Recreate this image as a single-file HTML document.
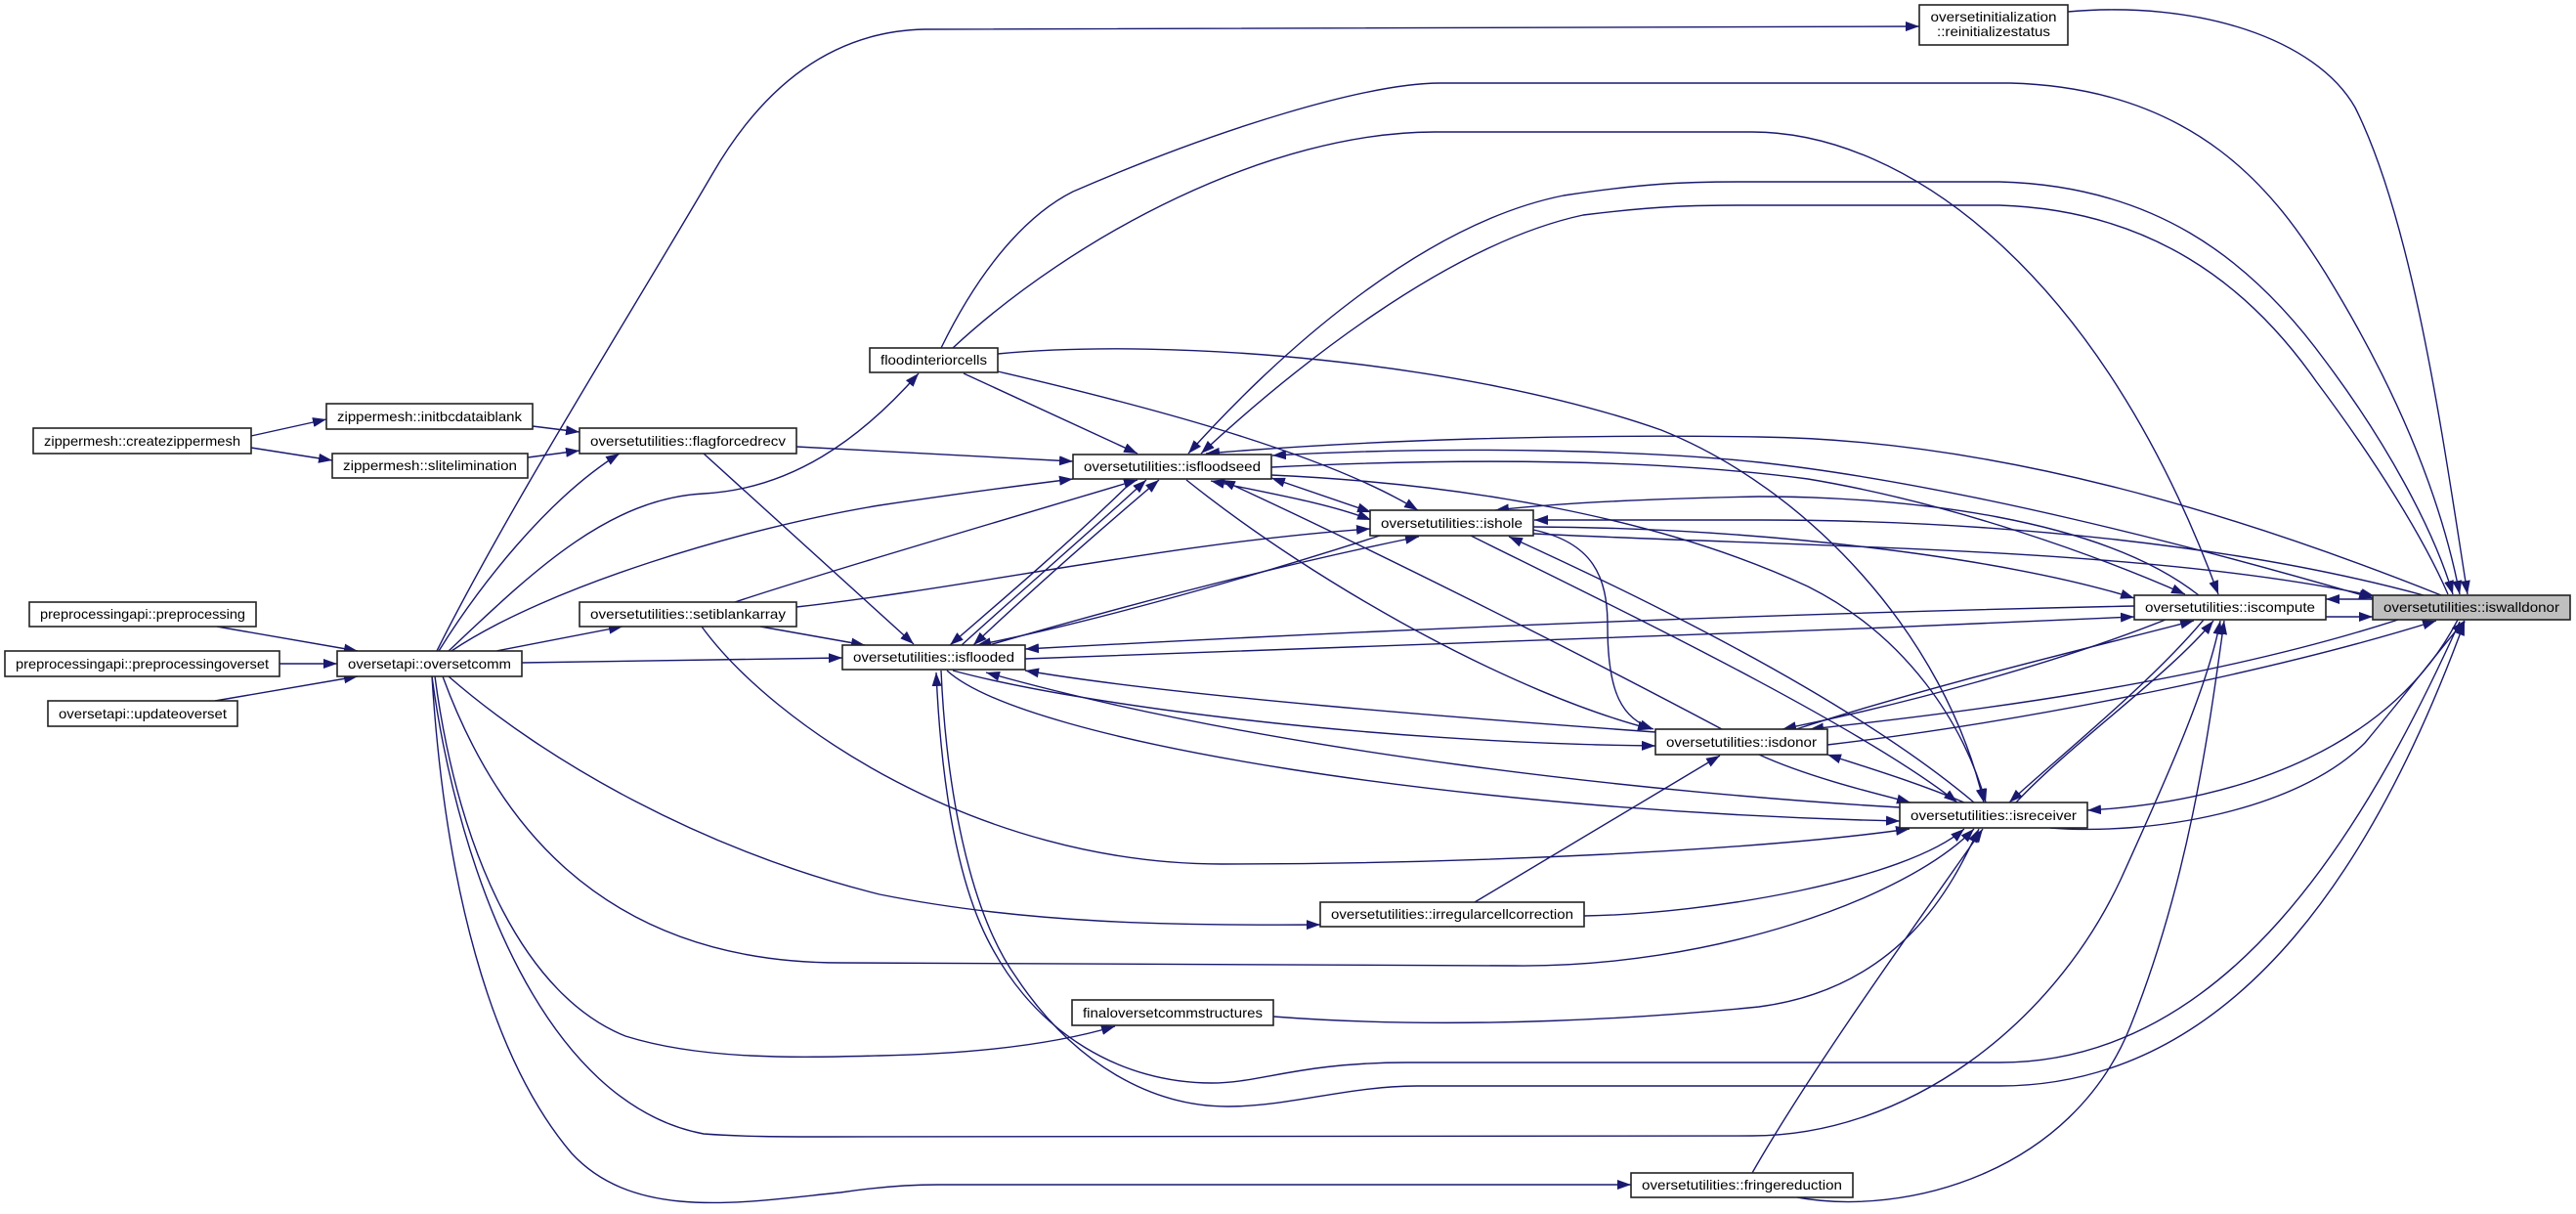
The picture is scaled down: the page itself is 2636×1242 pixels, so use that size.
<!DOCTYPE html>
<html><head><meta charset="utf-8"><style>
html,body{margin:0;padding:0;background:#fff;}
svg{display:block;}
text{font-family:"Liberation Sans",Arial,sans-serif;font-size:14px;fill:#000;text-anchor:middle;}
</style></head><body>
<svg width="2636" height="1242" viewBox="0 0 2636 1242" xmlns="http://www.w3.org/2000/svg">
<defs>
<marker id="a" viewBox="0 0 14 10" refX="14" refY="5" markerWidth="14" markerHeight="10" markerUnits="userSpaceOnUse" orient="auto"><path d="M0,0L14,5L0,10z" fill="#191970"/></marker>
<marker id="b" viewBox="0 0 14 10" refX="14" refY="5" markerWidth="14" markerHeight="10" markerUnits="userSpaceOnUse" orient="auto-start-reverse"><path d="M0,0L14,5L0,10z" fill="#191970"/></marker>
</defs>
<rect width="2636" height="1242" fill="#fff"/>
<g fill="none" stroke="#191970" stroke-width="1.4" marker-end="url(#a)">
<path d="M257,446 L334,429"/>
<path d="M257,458 L340,471"/>
<path d="M545,436 L593,442"/>
<path d="M540,468 L593,461"/>
<path d="M222,641 L366,666"/>
<path d="M286,679 L345,679"/>
<path d="M220,717 L366,692"/>
<path d="M508,666 L637,641"/>
<path d="M534,678 L862,673"/>
<path d="M449,666 C490,600 560,510 634,464"/>
<path d="M459,666 C540,590 620,510 720,505 C810,500 880,450 940,382"/>
<path d="M447,666 C520,520 640,330 729,178 C780,90 850,32 946,30 L1964,27"/>
<path d="M752,616 C830,590 1000,540 1164,491"/>
<path d="M815,621 C1000,600 1200,555 1402,541"/>
<path d="M778,641 L885,660"/>
<path d="M718,641 C790,740 1000,884 1250,884 C1500,884 1800,870 1954,848"/>
<path d="M720,464 L935,659"/>
<path d="M815,457 L1098,472"/>
<path d="M462,666 C560,600 760,540 900,517 C980,505 1050,496 1098,490"/>
<path d="M1160,491 C1100,550 1030,610 972,660"/>
<path d="M984,660 C1050,600 1120,540 1173,491"/>
<path d="M996,660 C1070,590 1140,530 1186,491" marker-start="url(#b)"/>
<path d="M1412,548 C1250,600 1100,640 1000,660"/>
<path d="M1012,660 C1150,620 1300,580 1452,549"/>
<path d="M2184,620 C1800,628 1400,645 1049,664"/>
<path d="M1049,674 C1400,664 1800,648 2184,631"/>
<path d="M1694,749 C1500,735 1200,712 1049,686"/>
<path d="M975,686 C1100,720 1400,760 1694,763"/>
<path d="M1944,826 C1700,812 1300,770 1009,688"/>
<path d="M969,686 C1050,760 1500,830 1944,840"/>
<path d="M2517,636 C2420,850 2280,1087 2046,1087 L1440,1087 C1330,1087 1290,1108 1240,1108 C1150,1108 1060,1060 1010,960 C975,890 962,780 958,688"/>
<path d="M963,686 C968,800 990,930 1040,1000 C1100,1090 1180,1132 1256,1132 C1320,1132 1380,1111 1450,1111 L2046,1111 C2300,1111 2440,860 2522,636"/>
<path d="M986,382 L1164,464"/>
<path d="M1021,380 C1150,410 1350,460 1451,522"/>
<path d="M1021,362 C1200,345 1500,370 1700,440 C1850,500 1990,650 2030,821"/>
<path d="M963,356 C1010,260 1060,215 1098,196 C1250,130 1400,85 1474,85 L2057,85 C2250,90 2330,200 2380,280 C2460,410 2500,520 2517,608"/>
<path d="M975,356 C1100,240 1300,135 1468,135 L1793,135 C1950,135 2150,280 2270,608"/>
<path d="M2116,12 C2250,0 2370,40 2410,110 C2470,230 2500,450 2525,608"/>
<path d="M1216,464 C1300,370 1450,230 1600,200 C1680,188 1720,186 1780,186 L2046,186 C2200,190 2300,260 2380,370 C2440,450 2490,540 2510,608" marker-start="url(#b)"/>
<path d="M2505,608 C2480,550 2430,470 2370,390 C2300,290 2200,215 2046,210 L1780,210 C1740,210 1700,210 1620,220 C1480,250 1320,380 1229,464"/>
<path d="M2498,609 C2300,530 2050,450 1800,447 C1600,444 1400,450 1234,464"/>
<path d="M1302,466 C1500,455 1700,462 1800,473 C2000,495 2250,560 2428,612" marker-start="url(#b)"/>
<path d="M1301,478 C1500,468 1700,470 1850,490 C2000,515 2150,570 2236,608"/>
<path d="M1301,486 C1500,495 1700,530 1850,600 C1950,650 2010,740 2032,821"/>
<path d="M1301,489 L1403,524" marker-start="url(#b)"/>
<path d="M1239,492 C1300,505 1360,515 1403,532" marker-start="url(#b)"/>
<path d="M1214,491 C1350,600 1550,710 1690,746"/>
<path d="M1762,746 C1600,660 1400,560 1250,491"/>
<path d="M1505,548 C1650,620 1900,740 2003,821"/>
<path d="M2020,821 C1900,720 1700,620 1544,549"/>
<path d="M2250,609 C2150,530 1950,508 1800,508 C1700,510 1600,514 1530,522"/>
<path d="M2480,609 C2300,560 2050,532 1800,532 L1570,532"/>
<path d="M1569,539 C1800,540 2050,570 2184,612"/>
<path d="M1569,546 C1850,560 2200,560 2430,610"/>
<path d="M1569,542 C1630,555 1645,590 1645,640 C1645,710 1660,735 1692,746"/>
<path d="M2216,634 C2100,680 1950,720 1824,746"/>
<path d="M1838,746 C1980,700 2150,660 2245,635"/>
<path d="M2454,634 C2250,700 2000,730 1852,746"/>
<path d="M1870,762 C2100,735 2350,680 2493,635"/>
<path d="M1800,772 C1850,795 1920,812 1955,821"/>
<path d="M2010,821 C1960,800 1910,785 1870,772"/>
<path d="M1509,923 L1760,773"/>
<path d="M2255,634 C2200,700 2100,780 2056,821"/>
<path d="M2063,821 C2120,760 2220,690 2265,635"/>
<path d="M2515,634 C2450,760 2300,820 2136,829"/>
<path d="M2098,847 C2200,855 2350,830 2420,760 C2470,700 2500,660 2522,635"/>
<path d="M1621,937 C1750,935 1950,900 2010,848"/>
<path d="M1303,1040 C1500,1055 1700,1040 1800,1030 C1950,1010 2000,900 2025,848"/>
<path d="M453,692 C500,820 600,985 860,985 L1550,988 C1750,990 1950,920 2020,848"/>
<path d="M1793,1200 C1850,1100 1950,960 2029,848"/>
<path d="M2380,631 L2428,631"/>
<path d="M2428,613 L2380,613"/>
<path d="M1839,1225 C1950,1245 2120,1200 2180,1050 C2240,900 2260,750 2276,635"/>
<path d="M442,692 C470,900 560,1130 720,1160 C760,1163 800,1163 850,1163 L1793,1162 C1950,1162 2100,1050 2170,900 C2220,790 2260,700 2272,635"/>
<path d="M442,692 C455,900 500,1080 585,1180 C650,1250 760,1230 860,1220 C900,1214 930,1212 960,1212 L1669,1212"/>
<path d="M445,692 C470,880 540,1020 640,1060 C720,1085 820,1082 900,1080 C1000,1078 1080,1068 1141,1050"/>
<path d="M459,692 C560,780 720,870 900,915 C1050,945 1200,947 1351,946"/>
</g>
<g stroke="#222" stroke-width="1.6" fill="#fff">
<rect x="34" y="438" width="223" height="26"/>
<rect x="334" y="413" width="211" height="26"/>
<rect x="340" y="464" width="200" height="25"/>
<rect x="593" y="438" width="222" height="26"/>
<rect x="30" y="616" width="232" height="25"/>
<rect x="5" y="666" width="281" height="26"/>
<rect x="49" y="717" width="194" height="26"/>
<rect x="345" y="666" width="189" height="26"/>
<rect x="593" y="616" width="222" height="25"/>
<rect x="890" y="356" width="131" height="25"/>
<rect x="1098" y="465" width="203" height="25"/>
<rect x="1402" y="522" width="167" height="26"/>
<rect x="862" y="660" width="187" height="25"/>
<rect x="1964" y="5" width="152" height="41"/>
<rect x="2184" y="609" width="196" height="25"/>
<rect x="2428" y="609" width="202" height="25" fill="#bfbfbf"/>
<rect x="1694" y="746" width="176" height="26"/>
<rect x="1944" y="821" width="192" height="26"/>
<rect x="1351" y="923" width="270" height="25"/>
<rect x="1097" y="1023" width="206" height="26"/>
<rect x="1669" y="1200" width="227" height="25"/>
</g>
<g>
<text x="145.5" y="456" textLength="201" lengthAdjust="spacingAndGlyphs">zippermesh::createzippermesh</text>
<text x="439.5" y="431" textLength="189" lengthAdjust="spacingAndGlyphs">zippermesh::initbcdataiblank</text>
<text x="440" y="481" textLength="178" lengthAdjust="spacingAndGlyphs">zippermesh::slitelimination</text>
<text x="704" y="456" textLength="200" lengthAdjust="spacingAndGlyphs">oversetutilities::flagforcedrecv</text>
<text x="146" y="633" textLength="210" lengthAdjust="spacingAndGlyphs">preprocessingapi::preprocessing</text>
<text x="145.5" y="684" textLength="259" lengthAdjust="spacingAndGlyphs">preprocessingapi::preprocessingoverset</text>
<text x="146" y="735" textLength="172" lengthAdjust="spacingAndGlyphs">oversetapi::updateoverset</text>
<text x="439.5" y="684" textLength="167" lengthAdjust="spacingAndGlyphs">oversetapi::oversetcomm</text>
<text x="704" y="633" textLength="200" lengthAdjust="spacingAndGlyphs">oversetutilities::setiblankarray</text>
<text x="955.5" y="373" textLength="109" lengthAdjust="spacingAndGlyphs">floodinteriorcells</text>
<text x="1199.5" y="482" textLength="181" lengthAdjust="spacingAndGlyphs">oversetutilities::isfloodseed</text>
<text x="1485.5" y="540" textLength="145" lengthAdjust="spacingAndGlyphs">oversetutilities::ishole</text>
<text x="955.5" y="677" textLength="165" lengthAdjust="spacingAndGlyphs">oversetutilities::isflooded</text>
<text x="2040" y="22" textLength="129" lengthAdjust="spacingAndGlyphs">oversetinitialization</text>
<text x="2040" y="37" textLength="116" lengthAdjust="spacingAndGlyphs">::reinitializestatus</text>
<text x="2282" y="626" textLength="174" lengthAdjust="spacingAndGlyphs">oversetutilities::iscompute</text>
<text x="2529" y="626" textLength="180" lengthAdjust="spacingAndGlyphs">oversetutilities::iswalldonor</text>
<text x="1782" y="764" textLength="154" lengthAdjust="spacingAndGlyphs">oversetutilities::isdonor</text>
<text x="2040" y="839" textLength="170" lengthAdjust="spacingAndGlyphs">oversetutilities::isreceiver</text>
<text x="1486" y="940" textLength="248" lengthAdjust="spacingAndGlyphs">oversetutilities::irregularcellcorrection</text>
<text x="1200" y="1041" textLength="184" lengthAdjust="spacingAndGlyphs">finaloversetcommstructures</text>
<text x="1782.5" y="1217" textLength="205" lengthAdjust="spacingAndGlyphs">oversetutilities::fringereduction</text>
</g>
</svg>
</body></html>
